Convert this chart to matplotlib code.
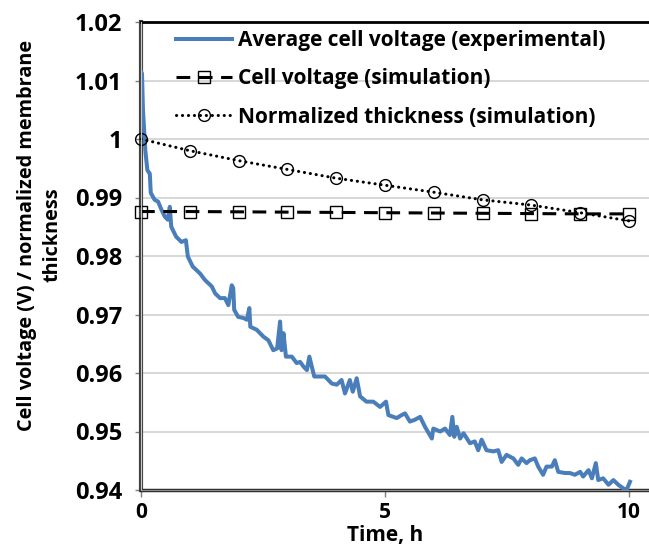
import numpy as np
import matplotlib
matplotlib.use('Agg')
import matplotlib.pyplot as plt
from matplotlib.ticker import FuncFormatter

plt.rcParams['font.family'] = ['Open Sans', 'DejaVu Sans']
plt.rcParams['font.weight'] = 'bold'
FS = 15

# experimental average cell voltage
t_exp = [0.00, 0.02, 0.04, 0.09, 0.13, 0.16, 0.18, 0.20, 0.28, 0.35, 0.42, 0.49,
         0.55, 0.59, 0.62, 0.72, 0.83, 0.92, 0.96, 1.06, 1.21, 1.31, 1.45, 1.52,
         1.62, 1.72, 1.79, 1.86, 1.89, 1.91, 1.99, 2.10, 2.17, 2.22, 2.24, 2.37,
         2.51, 2.61, 2.71, 2.79, 2.85, 2.88, 2.92, 2.97, 3.09, 3.19, 3.26, 3.33,
         3.40, 3.45, 3.55, 3.67, 3.77, 3.91, 4.01, 4.11, 4.18, 4.28, 4.34, 4.42,
         4.49, 4.62, 4.76, 4.90, 5.02, 5.07, 5.24, 5.34, 5.41, 5.51, 5.61, 5.72,
         5.82, 5.96, 5.99, 6.13, 6.23, 6.33, 6.38, 6.42, 6.47, 6.54, 6.61, 6.74,
         6.84, 6.91, 6.98, 7.08, 7.22, 7.32, 7.39, 7.49, 7.56, 7.63, 7.73, 7.80,
         7.90, 7.97, 8.07, 8.14, 8.24, 8.31, 8.42, 8.48, 8.55, 8.69, 8.79, 8.89,
         9.00, 9.06, 9.17, 9.24, 9.32, 9.37, 9.47, 9.58, 9.68, 9.78, 9.88, 9.95,
         10.02]
v_exp = [1.0115, 1.0112, 1.0050, 0.9979, 0.9947, 0.9943, 0.9941, 0.9908, 0.9896, 0.9893, 0.9879, 0.9867,
         0.9862, 0.9884, 0.9850, 0.9833, 0.9824, 0.9827, 0.9799, 0.9782, 0.9770, 0.9759, 0.9748, 0.9736,
         0.9728, 0.9728, 0.9716, 0.9750, 0.9745, 0.9708, 0.9696, 0.9694, 0.9691, 0.9711, 0.9679, 0.9674,
         0.9662, 0.9656, 0.9639, 0.9642, 0.9688, 0.9639, 0.9668, 0.9628, 0.9628, 0.9617, 0.9619, 0.9611,
         0.9605, 0.9628, 0.9594, 0.9594, 0.9594, 0.9582, 0.9580, 0.9588, 0.9565, 0.9588, 0.9568, 0.9591,
         0.9560, 0.9551, 0.9551, 0.9542, 0.9551, 0.9528, 0.9523, 0.9528, 0.9531, 0.9517, 0.9520, 0.9525,
         0.9508, 0.9488, 0.9505, 0.9500, 0.9505, 0.9494, 0.9525, 0.9491, 0.9508, 0.9488, 0.9497, 0.9480,
         0.9483, 0.9468, 0.9486, 0.9468, 0.9466, 0.9468, 0.9448, 0.9460, 0.9457, 0.9454, 0.9443, 0.9454,
         0.9446, 0.9451, 0.9454, 0.9440, 0.9426, 0.9440, 0.9440, 0.9451, 0.9431, 0.9429, 0.9429, 0.9426,
         0.9431, 0.9423, 0.9434, 0.9420, 0.9446, 0.9417, 0.9420, 0.9409, 0.9417, 0.9409, 0.9403, 0.9400,
         0.9414]

# simulation, hourly points
t_sim = [0, 1, 2, 3, 4, 5, 6, 7, 8, 9, 10]
v_sim = [0.9876, 0.9876, 0.98755, 0.9875, 0.98745, 0.9874, 0.98735, 0.9873, 0.98725, 0.9872, 0.9872]
thick_sim = [1.0, 0.9980, 0.9963, 0.9948, 0.9933, 0.9921, 0.9909, 0.9896, 0.9887, 0.9874, 0.9860]

yticks = [0.94, 0.95, 0.96, 0.97, 0.98, 0.99, 1.0, 1.01, 1.02]
xticks = [0, 5, 10]

fig = plt.figure(figsize=(6.49, 5.47), dpi=100)
ax = fig.add_axes([141/649, 1-490/547, 1-141/649, 468/547])

ax.plot(t_exp, v_exp, color='#4a7ebb', lw=2.9, solid_joinstyle='round',
        label='Average cell voltage (experimental)', zorder=3)
ax.plot(t_sim, v_sim, color='black', lw=2.2, linestyle=(0, (4.5, 2.8)),
        marker='s', ms=8.5, mfc='none', mec='black', mew=1.0,
        label='Cell voltage (simulation)', clip_on=False, zorder=4)
ax.plot(t_sim, thick_sim, color='black', lw=2.2, linestyle=(0, (0.05, 1.9)),
        dash_capstyle='round', marker='o', ms=8.5, mfc='none', mec='black', mew=1.0,
        label='Normalized thickness (simulation)', clip_on=False, zorder=4)

ax.set_xlim(0, 10.41)
ax.set_ylim(0.94, 1.02)
ax.set_yticks(yticks)
ax.set_xticks(xticks)
ax.yaxis.set_major_formatter(FuncFormatter(lambda v, p: ('%.2f' % v).rstrip('0').rstrip('.')))
ax.tick_params(axis='y', direction='out', length=4.5, width=1, color='#808080',
               labelsize=17, pad=9)
ax.tick_params(axis='x', direction='out', length=5, width=1, color='#808080',
               labelsize=FS, pad=4)
for lab in ax.get_xticklabels() + ax.get_yticklabels():
    lab.set_fontweight('bold')

ax.grid(axis='y', color='#d4d4d4', lw=1.3)
ax.set_axisbelow(True)

ax.spines['right'].set_visible(False)
ax.spines['top'].set_color('black')
ax.spines['top'].set_linewidth(2)
ax.spines['left'].set_color('#404040')
ax.spines['left'].set_linewidth(3)
ax.spines['bottom'].set_color('#303030')
ax.spines['bottom'].set_linewidth(2.5)
ax.axvline(0, color='#c8c8c8', lw=0.8, clip_on=False, zorder=5)
ax.axhline(0.94, color='#a0a0a0', lw=0.6, clip_on=False, zorder=5)

ax.set_xlabel('Time, h', fontsize=FS, fontweight='bold')
ax.xaxis.set_label_coords((385-141)/508, (490-525)/468)

fig.text(40/649, 1-235/547, 'Cell voltage (V) / normalized membrane\nthickness',
         rotation=90, ha='center', va='center', multialignment='center',
         fontsize=14.3, fontweight='bold', linespacing=1.35)

leg = ax.legend(loc='upper left', bbox_to_anchor=(176/649, 1-30/547),
                bbox_transform=fig.transFigure, frameon=False,
                handlelength=2.7, handletextpad=0.3, labelspacing=0.83,
                borderpad=0, borderaxespad=0, prop={'weight': 'bold', 'size': FS})

fig.savefig('out.png', dpi=100)
